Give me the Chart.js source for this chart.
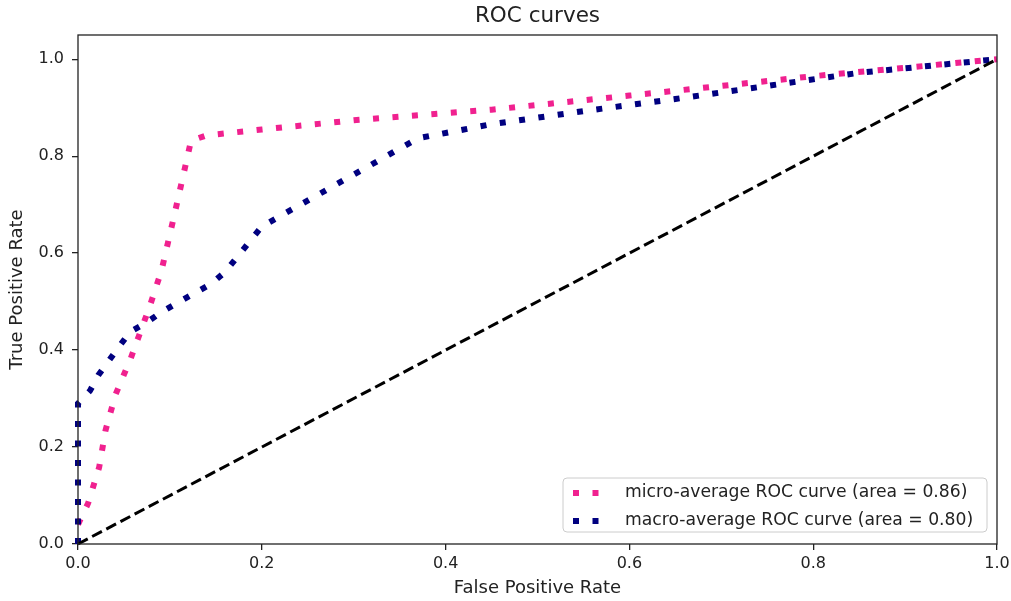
<!DOCTYPE html>
<html lang="en">
<head>
    <meta charset="UTF-8">
    <title>ROC curves</title>
    <style>
        body {
            margin: 0;
            padding: 0;
            background: #fff;
        }
        #wrap {
            width: 1011px;
            height: 601px;
        }
    </style>
</head>
<body>
    <div id="wrap">
        <canvas id="roc" width="1011" height="601"></canvas>
    </div>

    <script src="https://cdn.jsdelivr.net/npm/chart.js"></script>
    <script>
        // values
        const microFpr = [0, 0, 0.011, 0.023, 0.03, 0.041, 0.057, 0.078, 0.091, 0.105, 0.123, 0.14, 0.2, 0.3, 0.45, 0.6, 0.8, 1];
        const microTpr = [0, 0.04, 0.084, 0.158, 0.235, 0.309, 0.381, 0.49, 0.565, 0.68, 0.832, 0.843, 0.855, 0.874, 0.896, 0.925, 0.965, 1];

        const macroFpr = [0, 0, 0.013, 0.022, 0.045, 0.057, 0.074, 0.092, 0.145, 0.16, 0.2, 0.37, 0.45, 0.55, 0.65, 0.75, 0.85, 1];
        const macroTpr = [0, 0.29, 0.316, 0.348, 0.408, 0.438, 0.456, 0.48, 0.537, 0.561, 0.655, 0.837, 0.866, 0.893, 0.918, 0.945, 0.972, 1];

        const chanceFpr = [0, 1];
        const chanceTpr = [0, 1];

        const xTicks = [0, 0.2, 0.4, 0.6, 0.8, 1.0];
        const yTicks = [0, 0.2, 0.4, 0.6, 0.8, 1.0];

        const labels = ['micro-average ROC curve (area = 0.86)', 'macro-average ROC curve (area = 0.80)'];
        const titleText = 'ROC curves';

        const FONT = "'DejaVu Sans', sans-serif";
        const INK = '#222';

        function toPoints(xs, ys) {
            return xs.map((x, i) => ({ x: x, y: ys[i] }));
        }

        // frame around the plot area + title centred over the axes
        const framePlugin = {
            id: 'frame',
            afterDatasetsDraw(chart) {
                const a = chart.chartArea;
                const ctx = chart.ctx;
                ctx.save();
                ctx.strokeStyle = INK;
                ctx.lineWidth = 1.3;
                ctx.strokeRect(a.left, a.top, a.right - a.left, a.bottom - a.top);
                ctx.fillStyle = INK;
                ctx.font = '21.5px ' + FONT;
                ctx.textAlign = 'center';
                ctx.textBaseline = 'middle';
                ctx.fillText(titleText, (a.left + a.right) / 2, 16);
                ctx.restore();
            }
        };

        // matplotlib-like legend box in the lower right corner
        const boxLegend = {
            id: 'boxLegend',
            afterDraw(chart) {
                const a = chart.chartArea;
                const ctx = chart.ctx;
                const w = 424, h = 54;
                const x0 = a.right - 10 - w;
                const y0 = a.bottom - 12 - h;
                ctx.save();
                ctx.beginPath();
                ctx.roundRect(x0, y0, w, h, 4);
                ctx.fillStyle = 'rgba(255,255,255,0.8)';
                ctx.fill();
                ctx.strokeStyle = '#cccccc';
                ctx.lineWidth = 1;
                ctx.stroke();

                const shown = chart.data.datasets.filter(d => d.label);
                shown.forEach((ds, i) => {
                    const y = y0 + 15 + i * 28;
                    ctx.beginPath();
                    ctx.setLineDash(ds.borderDash || []);
                    ctx.lineCap = 'butt';
                    ctx.lineWidth = ds.borderWidth;
                    ctx.strokeStyle = ds.borderColor;
                    ctx.moveTo(x0 + 10, y);
                    ctx.lineTo(x0 + 40, y);
                    ctx.stroke();
                    ctx.setLineDash([]);
                    ctx.fillStyle = INK;
                    ctx.font = '17.2px ' + FONT;
                    ctx.textBaseline = 'middle';
                    ctx.textAlign = 'left';
                    ctx.fillText(ds.label, x0 + 62, y);
                });
                ctx.restore();
            }
        };

        new Chart(document.getElementById('roc'), {
            type: 'scatter',
            data: {
                datasets: [
                    {
                        label: labels[0],
                        data: toPoints(microFpr, microTpr),
                        showLine: true,
                        borderColor: '#f0218f',
                        borderWidth: 6,
                        borderDash: [6, 13.5],
                        borderCapStyle: 'butt',
                        pointRadius: 0,
                        tension: 0,
                        order: 3
                    },
                    {
                        label: labels[1],
                        data: toPoints(macroFpr, macroTpr),
                        showLine: true,
                        borderColor: '#000080',
                        borderWidth: 6,
                        borderDash: [6, 13.5],
                        borderCapStyle: 'butt',
                        pointRadius: 0,
                        tension: 0,
                        order: 2
                    },
                    {
                        label: '',
                        data: toPoints(chanceFpr, chanceTpr),
                        showLine: true,
                        borderColor: '#000',
                        borderWidth: 3,
                        borderDash: [11, 5],
                        borderCapStyle: 'butt',
                        pointRadius: 0,
                        order: 1
                    }
                ]
            },
            options: {
                responsive: false,
                animation: false,
                clip: false,
                layout: { padding: { left: 0, right: 14, top: 35, bottom: 0 } },
                plugins: {
                    legend: { display: false },
                    tooltip: { enabled: false },
                    title: { display: false }
                },
                scales: {
                    x: {
                        type: 'linear',
                        min: 0,
                        max: 1,
                        afterFit(scale) {
                            scale.height = 57;
                            scale.paddingLeft = 0;
                            scale.paddingRight = 0;
                        },
                        afterBuildTicks(scale) { scale.ticks = xTicks.map(v => ({ value: v })); },
                        grid: { drawOnChartArea: false, drawTicks: true, tickLength: 6, color: INK, lineWidth: 1.3 },
                        border: { display: false },
                        ticks: {
                            color: INK,
                            padding: 4,
                            maxRotation: 0,
                            font: { family: FONT, size: 16 },
                            callback: v => v.toFixed(1)
                        },
                        title: {
                            display: true,
                            text: 'False Positive Rate',
                            color: INK,
                            font: { family: FONT, size: 18 },
                            padding: { top: 2, bottom: 2 }
                        }
                    },
                    y: {
                        type: 'linear',
                        min: 0,
                        max: 1.05,
                        afterFit(scale) {
                            scale.width = 78;
                            scale.paddingTop = 0;
                            scale.paddingBottom = 0;
                        },
                        afterBuildTicks(scale) { scale.ticks = yTicks.map(v => ({ value: v })); },
                        grid: { drawOnChartArea: false, drawTicks: true, tickLength: 6, color: INK, lineWidth: 1.3 },
                        border: { display: false },
                        ticks: {
                            color: INK,
                            padding: 8,
                            font: { family: FONT, size: 16 },
                            callback: v => v.toFixed(1)
                        },
                        title: {
                            display: true,
                            text: 'True Positive Rate',
                            color: INK,
                            font: { family: FONT, size: 18 },
                            padding: { top: 7, bottom: 0 }
                        }
                    }
                }
            },
            plugins: [framePlugin, boxLegend]
        });
    </script>
</body>
</html>
